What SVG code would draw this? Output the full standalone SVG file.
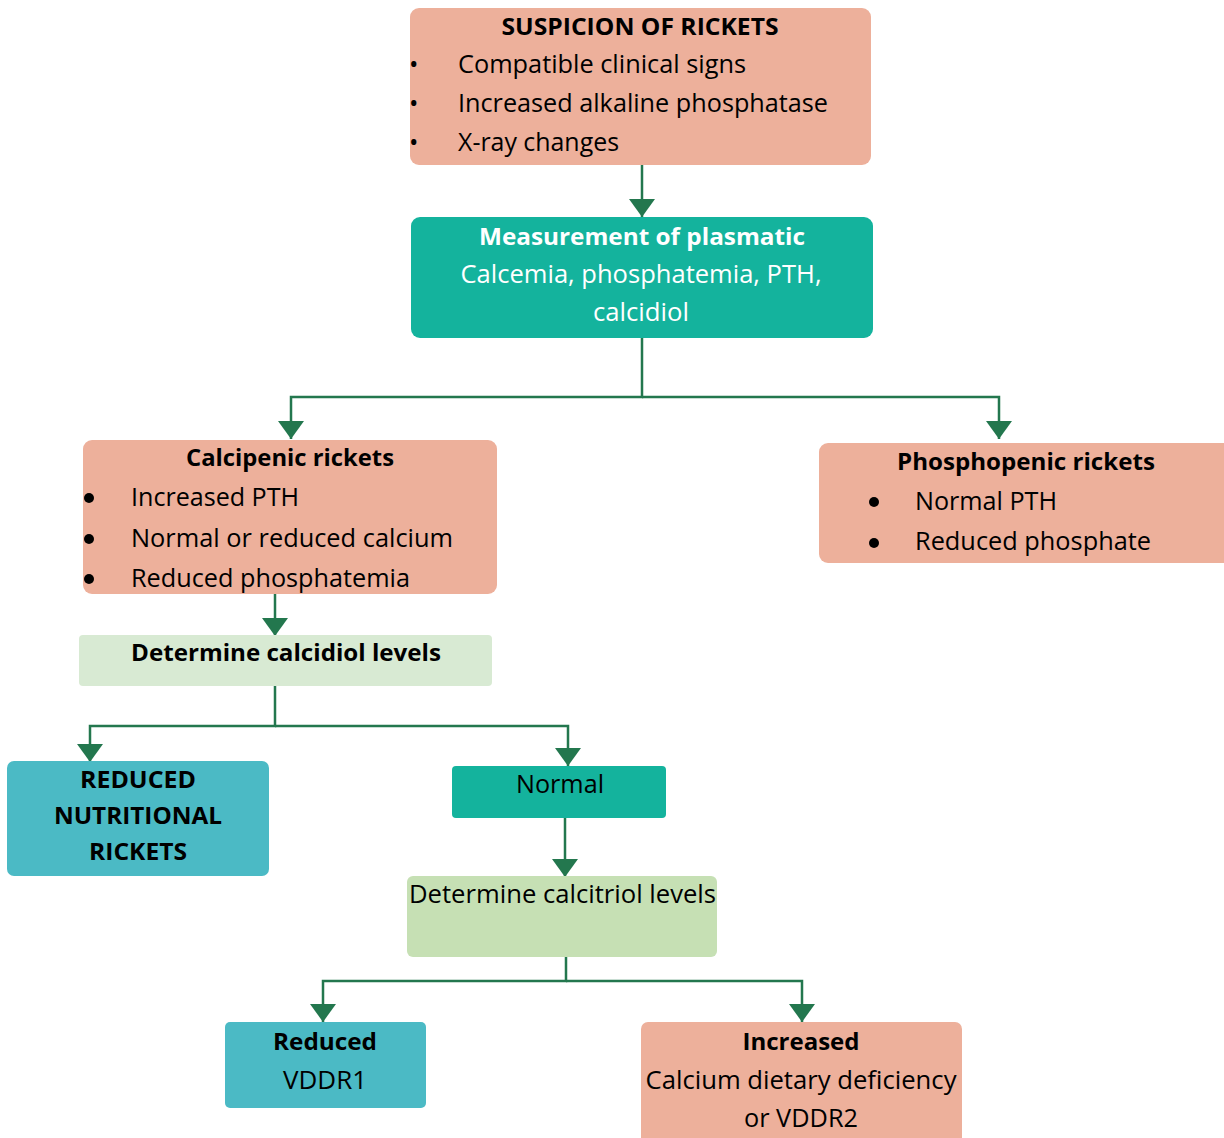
<svg xmlns="http://www.w3.org/2000/svg" width="1224" height="1138" viewBox="0 0 1224 1138">
<style>
text{font-family:"Open Sans","Noto Sans","Liberation Sans",sans-serif;fill:#000}
.t{font-size:25px}
.b{font-size:24px;font-weight:bold}
.c{text-anchor:middle}
.w{fill:#fff}
.salmon{fill:#EDB09B}
.teal{fill:#14B39D}
.blue{fill:#4BBAC5}
.lg1{fill:#D8EAD3}
.lg2{fill:#C6E0B4}
.conn{stroke:#23774E;stroke-width:2.5;fill:none}
.dot{fill:#000}
</style>
<defs>
<marker id="ah" markerUnits="userSpaceOnUse" markerWidth="20" markerHeight="28" refX="18" refY="13" orient="auto">
<path d="M0,0 L18,13 L0,26 Z" fill="#23774E"/>
</marker>
</defs>
<g id="connectors">
<path class="conn" d="M642,165 V217" marker-end="url(#ah)"/>
<path class="conn" d="M642,337 V397 H291 V439" marker-end="url(#ah)"/>
<path class="conn" d="M642,397 H999 V439" marker-end="url(#ah)"/>
<path class="conn" d="M275,594 V636" marker-end="url(#ah)"/>
<path class="conn" d="M275,686 V726 H90 V762" marker-end="url(#ah)"/>
<path class="conn" d="M275,726 H568 V766" marker-end="url(#ah)"/>
<path class="conn" d="M565,818 V877" marker-end="url(#ah)"/>
<path class="conn" d="M566,957 V981 H323 V1022" marker-end="url(#ah)"/>
<path class="conn" d="M566,981 H802 V1022" marker-end="url(#ah)"/>
</g>
<g id="suspicion">
<rect class="salmon" x="410" y="8" width="461" height="157" rx="9"/>
<text class="b c" x="640" y="35" textLength="277" lengthAdjust="spacingAndGlyphs">SUSPICION OF RICKETS</text>
<text class="t" x="409" y="73">•</text>
<text class="t" x="409" y="112">•</text>
<text class="t" x="409" y="151">•</text>
<text class="t" x="458" y="73" textLength="288" lengthAdjust="spacingAndGlyphs">Compatible clinical signs</text>
<text class="t" x="458" y="112" textLength="370" lengthAdjust="spacingAndGlyphs">Increased alkaline phosphatase</text>
<text class="t" x="458" y="151" textLength="161" lengthAdjust="spacingAndGlyphs">X-ray changes</text>
</g>
<g id="measurement">
<rect class="teal" x="411" y="217" width="462" height="121" rx="9"/>
<text class="b c w" x="642" y="245" textLength="326" lengthAdjust="spacingAndGlyphs">Measurement of plasmatic</text>
<text class="t c w" x="641" y="283" textLength="361" lengthAdjust="spacingAndGlyphs">Calcemia, phosphatemia, PTH,</text>
<text class="t c w" x="641" y="321" textLength="96" lengthAdjust="spacingAndGlyphs">calcidiol</text>
</g>
<g id="calcipenic">
<rect class="salmon" x="83" y="440" width="414" height="154" rx="9"/>
<text class="b c" x="290" y="466" textLength="208" lengthAdjust="spacingAndGlyphs">Calcipenic rickets</text>
<circle class="dot" cx="89" cy="498" r="5"/>
<circle class="dot" cx="89" cy="539" r="5"/>
<circle class="dot" cx="89" cy="579" r="5"/>
<text class="t" x="131" y="506" textLength="168" lengthAdjust="spacingAndGlyphs">Increased PTH</text>
<text class="t" x="131" y="547" textLength="322" lengthAdjust="spacingAndGlyphs">Normal or reduced calcium</text>
<text class="t" x="131" y="587" textLength="279" lengthAdjust="spacingAndGlyphs">Reduced phosphatemia</text>
</g>
<g id="phosphopenic">
<rect class="salmon" x="819" y="443" width="420" height="120" rx="9"/>
<text class="b c" x="1026" y="470" textLength="258" lengthAdjust="spacingAndGlyphs">Phosphopenic rickets</text>
<circle class="dot" cx="874" cy="502" r="5"/>
<circle class="dot" cx="874" cy="543" r="5"/>
<text class="t" x="915" y="510" textLength="142" lengthAdjust="spacingAndGlyphs">Normal PTH</text>
<text class="t" x="915" y="550" textLength="236" lengthAdjust="spacingAndGlyphs">Reduced phosphate</text>
</g>
<g id="calcidiol">
<rect class="lg1" x="79" y="635" width="413" height="51" rx="4"/>
<text class="b" x="131" y="661" textLength="310" lengthAdjust="spacingAndGlyphs">Determine calcidiol levels</text>
</g>
<g id="nutritional">
<rect class="blue" x="7" y="761" width="262" height="115" rx="7"/>
<text class="b c" x="138" y="788" textLength="116" lengthAdjust="spacingAndGlyphs">REDUCED</text>
<text class="b c" x="138" y="824" textLength="168" lengthAdjust="spacingAndGlyphs">NUTRITIONAL</text>
<text class="b c" x="138" y="860" textLength="98" lengthAdjust="spacingAndGlyphs">RICKETS</text>
</g>
<g id="normal">
<rect class="teal" x="452" y="766" width="214" height="52" rx="4"/>
<text class="t c" x="560" y="793" textLength="88" lengthAdjust="spacingAndGlyphs">Normal</text>
</g>
<g id="calcitriol">
<rect class="lg2" x="407" y="876" width="310" height="81" rx="6"/>
<text class="t" x="409" y="903" textLength="307" lengthAdjust="spacingAndGlyphs">Determine calcitriol levels</text>
</g>
<g id="reduced">
<rect class="blue" x="225" y="1022" width="201" height="86" rx="5"/>
<text class="b c" x="325" y="1050" textLength="104" lengthAdjust="spacingAndGlyphs">Reduced</text>
<text class="t c" x="325" y="1089" textLength="84" lengthAdjust="spacingAndGlyphs">VDDR1</text>
</g>
<g id="increased">
<rect class="salmon" x="641" y="1022" width="321" height="125" rx="7"/>
<text class="b c" x="801" y="1050" textLength="117" lengthAdjust="spacingAndGlyphs">Increased</text>
<text class="t c" x="801" y="1089" textLength="311" lengthAdjust="spacingAndGlyphs">Calcium dietary deficiency</text>
<text class="t c" x="801" y="1127" textLength="114" lengthAdjust="spacingAndGlyphs">or VDDR2</text>
</g>
</svg>
